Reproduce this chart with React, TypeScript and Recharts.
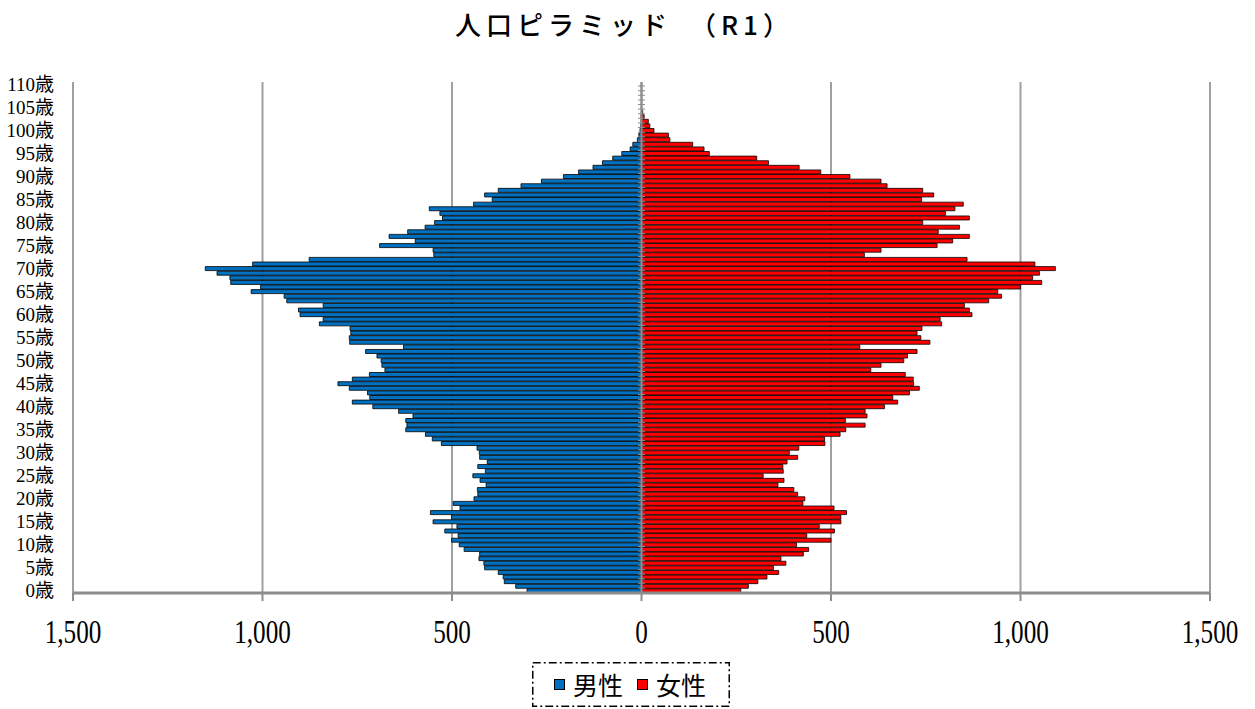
import React from 'react';
import { BarChart, Bar, XAxis, YAxis, CartesianGrid, ReferenceLine } from 'recharts';

// 年齢 0〜110歳
const ages: number[] = Array.from({ length: 111 }, (_, i) => i);

// 男性人口（0歳から順に）
const male: number[] = [
    302, 332, 362, 365, 378, 414, 416, 429, 427, 468,
    481, 501, 484, 519, 487, 550, 501, 557, 479, 497,
    442, 432, 433, 410, 426, 445, 412, 432, 407, 427,
    428, 434, 528, 552, 570, 622, 619, 622, 603, 641,
    709, 763, 717, 723, 771, 801, 763, 718, 677, 685,
    687, 698, 728, 628, 770, 771, 767, 769, 850, 840,
    901, 905, 840, 936, 943, 1030, 1005, 1084, 1086, 1120,
    1151, 1026, 877, 548, 550, 691, 597, 666, 617, 571,
    546, 525, 532, 560, 443, 394, 414, 378, 318, 264,
    206, 166, 128, 103, 76, 52, 30, 23, 11, 7,
    4, 2, 1, 1, 0, 0, 0, 0, 0, 0,
    0,
];

// 女性人口（0歳から順に）
const female: number[] = [
    262, 282, 307, 331, 362, 348, 381, 368, 427, 441,
    409, 500, 436, 509, 469, 526, 526, 541, 508, 426,
    431, 412, 402, 360, 376, 321, 374, 373, 384, 412,
    390, 415, 484, 483, 524, 539, 590, 538, 595, 590,
    641, 676, 663, 707, 733, 718, 717, 696, 605, 632,
    692, 702, 727, 576, 761, 737, 727, 740, 792, 788,
    872, 865, 852, 916, 950, 940, 1000, 1056, 1032, 1050,
    1092, 1038, 859, 588, 632, 780, 821, 865, 783, 839,
    742, 865, 802, 827, 849, 739, 771, 742, 648, 632,
    550, 473, 416, 335, 304, 179, 165, 135, 75, 71,
    33, 22, 18, 7, 3, 0, 0, 0, 0, 0,
    0,
];

const xTicks = [-1500, -1000, -500, 0, 500, 1000, 1500];

const CHART_W = 1255;
const CHART_H = 709;
const MARGIN = { top: 82, right: 45, left: 0, bottom: 56 };
const X_AXIS_H = 60;
const PLOT_H = CHART_H - MARGIN.top - MARGIN.bottom - X_AXIS_H;
const STEP = PLOT_H / ages.length;

const SERIF = '"Liberation Serif", "DejaVu Serif", "Noto Sans CJK JP", serif';
const GOTHIC = '"Noto Sans CJK JP", "Noto Sans", sans-serif';

const chartData = ages.map((age, i) => ({
    age,
    男性: -male[i],
    女性: female[i],
}));

function XTick(props: any) {
    const { x, y, payload } = props;
    const label = Math.abs(payload.value).toLocaleString('en-US');
    return (
        <g transform={`translate(${x},${y})`}>
            <text
                transform="scale(0.74,1)"
                x={0}
                y={0}
                dy={40}
                textAnchor="middle"
                fontSize={34}
                fontFamily={SERIF}
                fill="#000"
            >
                {label}
            </text>
        </g>
    );
}

function LegendBox() {
    const item = (color: string, text: string) => (
        <div style={{ display: 'flex', alignItems: 'center', marginRight: 14 }}>
            <span style={{
                display: 'inline-block', width: 9, height: 9, background: color,
                border: '1px solid #000', marginRight: 8,
            }} />
            <span style={{ fontSize: 25, fontFamily: GOTHIC, color: '#000', lineHeight: 1 }}>{text}</span>
        </div>
    );
    return (
        <div style={{ position: 'absolute', left: 532, top: 662, width: 198, height: 45 }}>
            <svg width={198} height={45} style={{ position: 'absolute', left: 0, top: 0 }}>
                <rect x={0.75} y={0.75} width={196.5} height={43.5} fill="#fff"
                    stroke="#000" strokeWidth={1.5} strokeDasharray="8 3 2 3" />
            </svg>
            <div style={{
                position: 'absolute', left: 0, top: 0, width: 198, height: 45,
                display: 'flex', alignItems: 'center', justifyContent: 'center', paddingLeft: 12,
                boxSizing: 'border-box',
            }}>
                {item('#0070C0', '男性')}
                {item('#FF0000', '女性')}
            </div>
        </div>
    );
}

export default function App() {
    return (
        <div style={{ position: 'absolute', left: 0, top: 0, width: CHART_W, height: CHART_H, background: '#fff' }}>
            <div style={{
                position: 'absolute', left: 0, top: 5, width: CHART_W - 6, textAlign: 'center',
                fontFamily: GOTHIC, fontSize: 26, fontWeight: 500, letterSpacing: 5, color: '#000',
            }}>
                人口ピラミッド　（R1）
            </div>
            <BarChart
                width={CHART_W}
                height={CHART_H}
                data={chartData}
                layout="vertical"
                stackOffset="sign"
                barCategoryGap="10%"
                margin={MARGIN}
            >
                <CartesianGrid horizontal={false} stroke="#a0a0a0" strokeWidth={2} />
                <XAxis
                    type="number"
                    domain={[-1500, 1500]}
                    ticks={xTicks}
                    allowDataOverflow
                    height={X_AXIS_H}
                    axisLine={{ stroke: '#8c8c8c', strokeWidth: 3 }}
                    tickLine={{ stroke: '#8c8c8c', strokeWidth: 2 }}
                    tickSize={8}
                    tick={<XTick />}
                />
                <YAxis
                    type="category"
                    dataKey="age"
                    reversed
                    interval={4}
                    width={73}
                    axisLine={false}
                    tickLine={false}
                    tickSize={0}
                    tickMargin={19}
                    tickFormatter={(v) => `${v}歳`}
                    tick={{ fontSize: 19, fill: '#000', fontFamily: SERIF }}
                />
                <Bar dataKey="男性" stackId="pop" fill="#0070C0" stroke="#000" strokeWidth={0.8} isAnimationActive={false} />
                <Bar dataKey="女性" stackId="pop" fill="#FF0000" stroke="#000" strokeWidth={0.8} isAnimationActive={false} />
                <ReferenceLine x={0} stroke="#8c8c8c" strokeWidth={2} />
                <ReferenceLine x={0} stroke="#8c8c8c" strokeWidth={7} strokeDasharray={`1 ${STEP - 1}`} />
            </BarChart>
            <LegendBox />
        </div>
    );
}
